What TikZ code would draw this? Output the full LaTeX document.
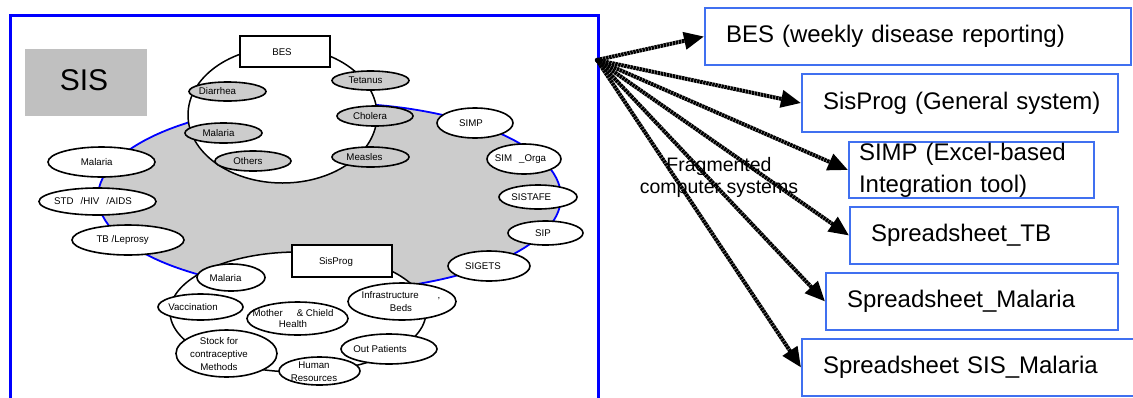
\documentclass[tikz,border=0pt]{standalone}
\usepackage{fontspec}
\setmainfont{Liberation Sans}
\usetikzlibrary{shapes.geometric,arrows.meta}

\definecolor{frameblue}{RGB}{0,0,255}
\definecolor{boxblue}{RGB}{64,112,240}
\definecolor{ringgrey}{RGB}{204,204,204}
\definecolor{sisgrey}{RGB}{192,192,192}

% shape with its caption set as a separate node (caption offset allowed)
% #1 caption options, #2 shape style, #3 name, #4 centre, #5 width, #6 height,
% #7 caption position, #8 caption
\newcommand\bubble[8][]{%
  \node[#2, minimum width=#5pt, minimum height=#6pt] (#3) at #4 {};
  \node[small,#1] (#3-t) at #7 {#8};
}

\begin{document}
\begin{tikzpicture}[x=1pt,y=-1pt,
  ovalbase/.style={ellipse, draw=black, line width=1.6pt, inner sep=0pt},
  greyoval/.style={ovalbase, fill=ringgrey},
  whiteoval/.style={ovalbase, fill=white},
  plainrect/.style={rectangle, draw=black, line width=1.4pt, fill=white, inner sep=0pt},
  small/.style={font=\fontsize{9.7}{11.5}\selectfont, inner sep=0pt, align=center},
  sysbox/.style={rectangle, draw=boxblue, line width=2pt, fill=white,
    inner ysep=0pt, inner xsep=21pt, align=left,
    font=\fontsize{24}{32}\selectfont},
  flow/.style={line width=4pt, dash pattern=on 2.5pt off 0.6pt,
    -{Triangle[length=20pt,width=17pt]}}
]
\useasboundingbox (0,0) rectangle (1133,397);

% outer frame of the SIS panel
\draw[frameblue, line width=3pt] (10.5,402) -- (10.5,15.3) -- (598,15.3) -- (598,402);

% SIS title block
\node[fill=sisgrey, minimum width=122pt, minimum height=67pt, inner sep=0pt] (sis) at (86,82.5) {};
\node[font=\fontsize{30}{30}\selectfont, inner sep=0pt] (sis-t) at (84,80) {SIS};

% grey ring of subsystems
\node[ellipse, draw=frameblue, line width=1.8pt, fill=ringgrey,
      minimum width=463pt, minimum height=188pt, inner sep=0pt] (ring) at (329.5,197) {};

% BES group
\node[ellipse, draw=black, line width=1.5pt, fill=white,
      minimum width=189pt, minimum height=136pt, inner sep=0pt] (besell) at (282.5,115) {};
\bubble{plainrect}{besr}{(285,51.5)}{90}{31}{(282,51.7)}{BES}
\bubble{greyoval}{tet}{(370.5,80.5)}{77}{19}{(365.5,80.5)}{Tetanus}
\bubble{greyoval}{dia}{(227.5,91.5)}{77}{19}{(217.5,91.5)}{Diarrhea}
\bubble{greyoval}{cho}{(375,116)}{76}{20}{(370,116)}{Cholera}
\bubble{greyoval}{malb}{(223.5,133)}{77}{20}{(218.5,133)}{Malaria}
\bubble{greyoval}{oth}{(253,161)}{76}{20}{(248,161)}{Others}
\bubble{greyoval}{mea}{(370.5,157)}{77}{20}{(364.5,157)}{Measles}

% subsystems on the ring
\bubble{whiteoval}{simp}{(475,123)}{76}{30}{(471,123)}{SIMP}
\bubble{whiteoval}{simo}{(524,159)}{74}{30}{(520.5,159.3)}{SIM\hspace{7pt}\_Orga}
\bubble{whiteoval}{sist}{(538,197)}{78}{24}{(531.3,196.7)}{SISTAFE}
\bubble{whiteoval}{sip}{(545.5,233)}{75}{24}{(543,232.7)}{SIP}
\bubble{whiteoval}{sige}{(489,266)}{82}{30}{(483,265.7)}{SIGETS}
\bubble{whiteoval}{mall}{(101.5,162)}{107}{30}{(96.7,162)}{Malaria}
\bubble{whiteoval}{std}{(97.5,201.5)}{117}{27}{(93,201.5)}{STD\hspace{7pt}/HIV\hspace{7pt}/AIDS}
\bubble{whiteoval}{tb}{(128,240)}{112}{30}{(122.7,240)}{TB /Leprosy}

% SisProg group
\node[ellipse, draw=black, line width=1.5pt, fill=white,
      minimum width=256pt, minimum height=120pt, inner sep=0pt] (spell) at (298,312) {};
\bubble{plainrect}{spr}{(342,261)}{100}{32}{(336,262)}{SisProg}
\bubble{whiteoval}{malp}{(231,277.5)}{68}{27}{(225.6,277.7)}{Malaria}
\bubble{whiteoval}{vac}{(200.5,307)}{85}{26}{(193,307.3)}{Vaccination}
\bubble{whiteoval}{out}{(389,349)}{96}{30}{(380,349)}{Out Patients}
\bubble[font=\fontsize{9.7}{13.5}\selectfont]{whiteoval}{inf}{(402,301.5)}{108}{37}{(401,301.5)}{Infrastructure\hspace{19pt},\\Beds}
\bubble[font=\fontsize{9.7}{11.5}\selectfont]{whiteoval}{mch}{(297.5,318.5)}{101}{33}{(293,318.5)}{Mother\hspace{14pt}\& Chield\\Health}
\bubble[font=\fontsize{9.7}{12.7}\selectfont]{whiteoval}{stk}{(226.5,353.5)}{101}{47}{(219,354)}{Stock for\\contraceptive\\Methods}
\bubble[font=\fontsize{9.7}{13}\selectfont]{whiteoval}{hum}{(319.5,371)}{81}{28}{(314,371.5)}{Human\\Resources}

% computer systems (single-line captions kept unbroken)
\node[sysbox, text width=384pt, minimum height=57pt] (b1) at (918,36.5) {\mbox{BES (weekly disease reporting)}};
\node[sysbox, text width=274pt, minimum height=58pt] (b2) at (960,103) {\mbox{SisProg (General system)}};
\node[sysbox, inner xsep=10pt, text width=225pt, minimum height=56pt] (b3) at (971.5,170) {\mbox{SIMP (Excel-based}\\\mbox{Integration tool)}};
\node[sysbox, text width=226pt, minimum height=57pt] (b4) at (984,235.5) {\mbox{Spreadsheet\_TB}};
\node[sysbox, text width=250pt, minimum height=57pt] (b5) at (972,301.5) {\mbox{Spreadsheet\_Malaria}};
\node[sysbox, text width=296pt, minimum height=57pt] (b6) at (971,367.5) {\mbox{Spreadsheet SIS\_Malaria}};

\node[align=center, font=\fontsize{19.5}{22}\selectfont, inner sep=0pt] (frag) at (719,177) {Fragmented\\computer systems};

% fan of arrows
\node[circle, fill=black, inner sep=0pt, minimum size=4.5pt] (hub) at (597,60) {};
\draw[flow] (hub.center) -- (b1.west);
\draw[flow] (hub.center) -- (b2.west);
\draw[flow] (hub.center) -- (b3.west);
\draw[flow] (hub.center) -- (b4.west);
\draw[flow] (hub.center) -- (b5.west);
\draw[flow] (hub.center) -- (b6.west);
\end{tikzpicture}
\end{document}
